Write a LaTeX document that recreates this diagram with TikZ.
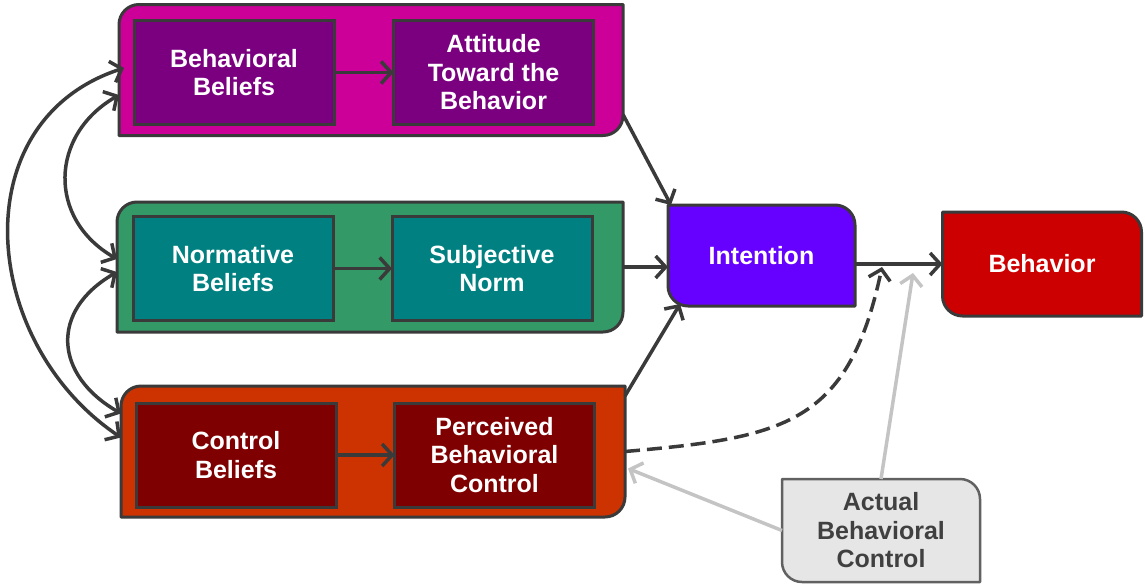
\documentclass[tikz,border=0pt]{standalone}
\usepackage{fontspec}
\setmainfont{Liberation Sans}
\usetikzlibrary{arrows.meta,calc}
\pgfdeclarelayer{background}
\pgfsetlayers{background,main}
\definecolor{bord}{HTML}{3A3A3A}
\definecolor{magOut}{HTML}{CC0099}
\definecolor{magIn}{HTML}{7A0080}
\definecolor{grnOut}{HTML}{339966}
\definecolor{grnIn}{HTML}{008080}
\definecolor{orOut}{HTML}{CC3300}
\definecolor{orIn}{HTML}{7F0000}
\definecolor{intFill}{HTML}{6600FF}
\definecolor{behFill}{HTML}{CC0000}
\definecolor{abcFill}{HTML}{E6E6E6}
\definecolor{abcText}{HTML}{404040}
\definecolor{grayArr}{HTML}{C4C4C4}
\newcommand\rr{20pt}
\newcommand\shpTLBR[2]{\begin{pgfonlayer}{background}
  \path[draw=bord,line width=3pt,fill=#2,line join=round]
    (#1.south west) -- ([yshift=-\rr]#1.north west)
    arc[start angle=180,end angle=90,radius=\rr] -- (#1.north east)
    -- ([yshift=\rr]#1.south east)
    arc[start angle=0,end angle=-90,radius=\rr] -- cycle;
  \end{pgfonlayer}}
\newcommand\shpTRBL[2]{\begin{pgfonlayer}{background}
  \path[draw=bord,line width=3pt,fill=#2,line join=round]
    (#1.north west) -- ([xshift=-\rr]#1.north east)
    arc[start angle=90,end angle=0,radius=\rr] -- (#1.south east)
    -- ([xshift=\rr]#1.south west)
    arc[start angle=270,end angle=180,radius=\rr] -- cycle;
  \end{pgfonlayer}}
\tikzset{
  every node/.style={font=\fontsize{25}{28.5}\selectfont\bfseries, text=white,
    align=center, inner sep=0pt, outer sep=0pt},
  grp/.style={minimum width=#1, minimum height=131pt},
  inbox/.style={draw=bord, line width=3pt, fill=#1, minimum width=200pt, minimum height=104pt},
  mainbox/.style={minimum width=#1, minimum height=103pt},
  arr/.style={draw=bord, line width=3.5pt, -{Straight Barb[length=10pt,width=22pt]}},
  darr/.style={draw=bord, line width=3.5pt, {Straight Barb[length=10pt,width=22pt]}-{Straight Barb[length=10pt,width=22pt]}},
  garr/.style={draw=grayArr, line width=3.5pt, -{Straight Barb[length=10pt,width=22pt]}},
  dasharr/.style={arr, dash pattern=on 15pt off 7pt},
}
\begin{document}
\begin{tikzpicture}[x=1pt,y=1pt]
\useasboundingbox (0,0) rectangle (1145,-584);

% group containers
\node[grp=504pt] (gA) at (371,-70) {};
\node[grp=506pt, minimum height=130pt] (gN) at (370,-267) {};
\node[grp=504pt] (gC) at (373,-451.5) {};
\shpTLBR{gA}{magOut}
\shpTLBR{gN}{grnOut}
\shpTLBR{gC}{orOut}

% inner boxes
\node[inbox=magIn] (bb) at (234,-72.5) {Behavioral\\Beliefs};
\node[inbox=magIn] (att) at (493.5,-72.5) {Attitude\\Toward the\\Behavior};
\node[inbox=grnIn] (nb) at (233,-268.5) {Normative\\Beliefs};
\node[inbox=grnIn] (sn) at (492,-268.5) {Subjective\\Norm};
\node[inbox=orIn] (cb) at (236,-455) {Control\\Beliefs};
\node[inbox=orIn] (pbc) at (494.5,-455) {Perceived\\Behavioral\\Control};

% main boxes
\node[mainbox=187pt, minimum height=101pt] (int) at (761.5,-255.5) {Intention};
\node[mainbox=199pt, minimum height=104pt] (beh) at (1042,-264) {Behavior};
\node[mainbox=198pt, text=abcText] (abc) at (881,-530.5) {Actual\\Behavioral\\Control};
\shpTRBL{int}{intFill}
\shpTRBL{beh}{behFill}
\begin{pgfonlayer}{background}
  \path[draw=bord!80,line width=2.5pt,fill=abcFill,line join=round]
    (abc.north west) -- ([xshift=-\rr]abc.north east)
    arc[start angle=90,end angle=0,radius=\rr] -- (abc.south east)
    -- ([xshift=\rr]abc.south west)
    arc[start angle=270,end angle=180,radius=\rr] -- cycle;
\end{pgfonlayer}

% inner arrows
\draw[arr] (bb.east) -- (att.west);
\draw[arr] (nb.east) -- (sn.west);
\draw[arr] (cb.east) -- (pbc.west);

% to intention
\draw[arr] ([yshift=21pt]gA.south east) -- ([xshift=3pt]int.north west);
\draw[arr] (gN.east) -- (gN.east -| int.west);
\draw[arr] ([yshift=-10pt]gC.north east) -- ([xshift=12pt,yshift=2pt]int.south west);

% intention to behavior
\draw[arr] (int.east |- beh.west) -- (beh.west);
\coordinate (j1) at (882,-267);
\coordinate (j2) at (913,-273);
\draw[dasharr] (gC.east) to[out=5,in=-102,looseness=1.3] (j1);
\draw[garr] (abc.north) -- (j2);
\draw[garr] (abc.west) -- ([xshift=3pt,yshift=-17pt]gC.east);

% left correlations
\coordinate (A1) at ([xshift=5pt,yshift=2pt]gA.west);
\coordinate (A2) at ([yshift=-25pt]gA.west);
\coordinate (N1) at ([yshift=8pt]gN.west);
\coordinate (N2) at ([yshift=-5pt]gN.west);
\coordinate (C1) at ([yshift=38pt]gC.west);
\coordinate (C2) at ([yshift=14pt]gC.west);
\draw[darr] (A1) to[out=198,in=146,looseness=1.18] (C2);
\draw[darr] (A2) to[out=210,in=150,looseness=1.25] (N1);
\draw[darr] (N2) to[out=210,in=150,looseness=1.4] (C1);
\end{tikzpicture}
\end{document}
